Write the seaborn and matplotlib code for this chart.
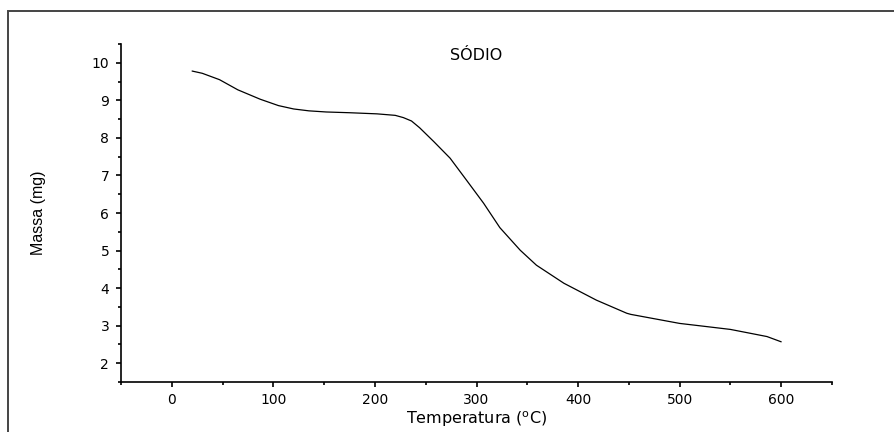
import matplotlib
matplotlib.use("Agg")
import matplotlib.pyplot as plt
import seaborn as sns
import pandas as pd
from matplotlib.ticker import MultipleLocator
from matplotlib.patches import Rectangle
from matplotlib import font_manager

temperatura = [20, 30, 47, 65, 87, 105, 120, 135, 152, 175, 202, 220, 228, 236, 244,
               258, 274, 290, 307, 323, 343, 359, 386, 418, 448, 452, 500, 522, 550,
               569, 586, 600]
massa = [9.78, 9.72, 9.55, 9.28, 9.03, 8.86, 8.77, 8.72, 8.69, 8.67, 8.64, 8.60, 8.54,
         8.45, 8.27, 7.90, 7.46, 6.88, 6.26, 5.61, 5.01, 4.61, 4.13, 3.68, 3.33, 3.30,
         3.06, 2.99, 2.90, 2.80, 2.71, 2.57]
x_ticks = [0, 100, 200, 300, 400, 500, 600]
y_ticks = [2, 3, 4, 5, 6, 7, 8, 9, 10]
titulo = "SÓDIO"

sns.set_style("ticks")
plt.rcParams['font.family'] = ['DejaVu Sans']
plt.rcParams['text.color'] = 'black'
plt.rcParams['axes.labelcolor'] = 'black'

names = {f.name for f in font_manager.fontManager.ttflist}
narrow = 'Liberation Sans'
for cand in ['Liberation Sans Narrow', 'DejaVu Sans Condensed']:
    if cand in names:
        narrow = cand
        break

df = pd.DataFrame({"T": temperatura, "M": massa})

fig = plt.figure(figsize=(8.94, 4.32), dpi=100)
ax = fig.add_axes([121/894, 1-382/432, (832-121)/894, (382-44)/432])

sns.lineplot(data=df, x="T", y="M", ax=ax, color="black", linewidth=0.9, sort=False)

ax.set_xlim(-50, 650)
ax.set_ylim(1.5, 10.5)
ax.set_xticks(x_ticks)
ax.set_yticks(y_ticks)
ax.xaxis.set_minor_locator(MultipleLocator(50))
ax.yaxis.set_minor_locator(MultipleLocator(0.5))
ax.tick_params(which='major', direction='out', length=3.5, width=1.2, labelsize=10,
               colors='black')
ax.tick_params(axis='x', which='major', pad=4.5)
ax.tick_params(axis='y', which='major', pad=5)
ax.tick_params(which='minor', direction='out', length=2.5, width=1.2, colors='black')
for s in ['top', 'right']:
    ax.spines[s].set_visible(False)
for s in ['left', 'bottom']:
    ax.spines[s].set_linewidth(1.2)
    ax.spines[s].set_color('black')

ax.set_xlabel("Temperatura ($^{\\rm o}$C)", fontsize=11.5, labelpad=1.5, color='black')
ax.set_ylabel("Massa (mg)", fontsize=11.5, family=narrow, labelpad=33, color='black')
ax.text(0.5, 0.967, titulo, transform=ax.transAxes, ha='center', va='center',
        fontsize=11.5, color='black')

rect = Rectangle((8/894, -0.2), 1.5, 1.2 - 11/432, transform=fig.transFigure,
                 fill=False, edgecolor='#444444', linewidth=1.4, clip_on=False)
fig.patches.append(rect)

fig.savefig("out.png", dpi=100)
